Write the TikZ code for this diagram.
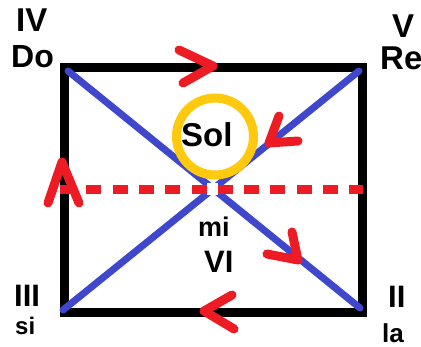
\documentclass[tikz,border=0pt]{standalone}
\usepackage{fontspec}
\setmainfont{Liberation Sans}
\definecolor{pblue}{RGB}{63,72,204}
\definecolor{pred}{RGB}{237,28,36}
\definecolor{pgold}{RGB}{255,201,14}
\begin{document}
\begin{tikzpicture}[x=1pt,y=-1pt,
  lbl/.style={anchor=base west,inner sep=0pt,font=\bfseries\fontsize{#1}{#1}\selectfont},
  frame/.style={line width=9pt,black,line join=miter},
  diag/.style={line width=7pt,pblue,line cap=round},
  chev/.style={line width=9pt,pred,line cap=round,line join=round},
  dashline/.style={line width=9pt,pred,dash pattern=on 15pt off 11.3pt}]
\useasboundingbox (0,0) rectangle (421,347);
% corners
\coordinate (tl) at (64,68);
\coordinate (tr) at (362.5,68);
\coordinate (br) at (362.5,312.5);
\coordinate (bl) at (64,312.5);
\coordinate (dtl) at (68,71);
\coordinate (dtr) at (359,71);
\coordinate (dbr) at (360,308);
\coordinate (dbl) at (63,310);
\coordinate (ml) at (60,189.5);
\coordinate (mr) at (363,189.5);
% frame
\draw[frame] (tl) -- (tr) -- (br) -- (bl) -- cycle;
% diagonals
\draw[diag] (dtl) -- (dbr);
\draw[diag] (dtr) -- (dbl);
\fill[white] (206.8,183.5) rectangle (217.8,195.5);
% dashed line
\draw[dashline] (ml) -- (mr);
% sun circle
\node[draw=pgold,line width=9pt,circle,minimum size=77pt,inner sep=0pt] (sun) at (215,136.5) {};
% labels
\node[lbl=33] (iv) at (16,32) {IV};
\node[lbl=32] (do) at (11,68) {Do};
\node[lbl=33] (v) at (392,38) {V};
\node[lbl=33] (re) at (380,70) {Re};
\node[lbl=31] (iii) at (14,307) {III};
\node[lbl=24] (si) at (15,335) {si};
\node[lbl=31] (ii) at (388,308) {II};
\node[lbl=26] (la) at (382,343) {la};
\node[lbl=33] (sol) at (181,147) {Sol};
\node[lbl=27] (mi) at (198,237) {mi};
\node[lbl=31] (vi) at (204,273) {VI};
% red chevrons
\draw[chev] (179,50) -- (213,66) -- (183,83);
\draw[chev] (279,116) -- (269,143) -- (298,141);
\draw[chev] (292,232) -- (298,260) -- (267,254);
\draw[chev] (232,295) -- (204,311) -- (234,329);
\draw[chev] (48,203) -- (62,162) -- (79,203);
\end{tikzpicture}
\end{document}
